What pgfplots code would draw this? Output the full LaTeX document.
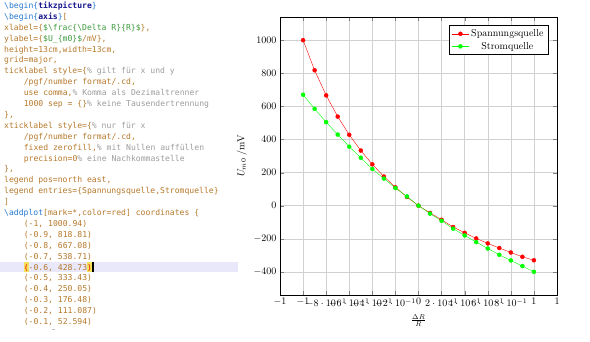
\documentclass[border=0pt]{standalone}
\usepackage{fontspec}
\usepackage{pgfplots}
\pgfplotsset{compat=1.18}
\newfontfamily\codefont{DejaVu Sans Mono}
\definecolor{kwblue}{HTML}{2479D0}
\definecolor{envblue}{HTML}{15158F}
\definecolor{codebrown}{HTML}{B5782A}
\definecolor{codegreen}{HTML}{3C9A3C}
\definecolor{codegray}{HTML}{9C9C9C}
\definecolor{linehl}{HTML}{E8E8FA}
\definecolor{parenhl}{HTML}{F2E35A}
\newcommand\kw[1]{\textcolor{kwblue}{#1}}
\newcommand\env[1]{\textcolor{envblue}{\bfseries #1}}
\newcommand\br[1]{\textcolor{codebrown}{#1}}
\newcommand\gr[1]{\textcolor{codegreen}{#1}}
\newcommand\cm[1]{\textcolor{codegray}{#1}}
% line number, indent (characters), text
\newcommand\codeline[3]{\node[anchor=base west, inner sep=0pt,
  font=\codefont\fontsize{8.1}{10}\selectfont]
  at ({4pt+4.9pt*#2},{333.5pt-10.9pt*#1}) {#3};}

\begin{document}
\begin{tikzpicture}
\useasboundingbox (0pt,0pt) rectangle (590pt,342pt);

% editor pane
\fill[linehl] (0pt,69.7pt) rectangle (238pt,80.3pt);
\fill[parenhl] (23.6pt,70.3pt) rectangle (28.5pt,79.7pt);
\fill[parenhl] (87.3pt,70.3pt) rectangle (92.2pt,79.7pt);
\fill[black] (92.3pt,70pt) rectangle (93.9pt,80pt);
\draw[gray!50, line width=0.8pt] (51.5pt,13pt) -- (55pt,13pt);
\begin{scope}
\clip (0pt,17.5pt) rectangle (240pt,342pt);
\codeline{0}{0}{\kw{\textbackslash begin\{}\env{tikzpicture}\kw{\}}}
\codeline{1}{0}{\kw{\textbackslash begin\{}\env{axis}\kw{\}}\br{[}}
\codeline{2}{0}{\br{xlabel=\{}\gr{\$\textbackslash frac\{\textbackslash Delta R\}\{R\}\$}\br{\},}}
\codeline{3}{0}{\br{ylabel=\{}\gr{\$U\_\{m0\}\$}\br{ /mV\},}}
\codeline{4}{0}{\br{height=13cm,width=13cm,}}
\codeline{5}{0}{\br{grid=major,}}
\codeline{6}{0}{\br{ticklabel style=\{}\cm{\% gilt für x und y}}
\codeline{7}{4}{\br{/pgf/number format/.cd,}}
\codeline{8}{4}{\br{use comma,}\cm{\% Komma als Dezimaltrenner}}
\codeline{9}{4}{\br{1000 sep = \{\}}\cm{\% keine Tausendertrennung}}
\codeline{10}{0}{\br{\},}}
\codeline{11}{0}{\br{xticklabel style=\{}\cm{\% nur für x}}
\codeline{12}{4}{\br{/pgf/number format/.cd,}}
\codeline{13}{4}{\br{fixed zerofill,}\cm{\% mit Nullen auffüllen}}
\codeline{14}{4}{\br{precision=0}\cm{\% eine Nachkommastelle}}
\codeline{15}{0}{\br{\},}}
\codeline{16}{0}{\br{legend pos=north east,}}
\codeline{17}{0}{\br{legend entries=\{Spannungsquelle,Stromquelle\}}}
\codeline{18}{0}{\br{]}}
\codeline{19}{0}{\kw{\textbackslash addplot}\br{[mark=*,color=red] coordinates \{}}
\codeline{20}{4}{\br{(-1, 1000.94)}}
\codeline{21}{4}{\br{(-0.9, 818.81)}}
\codeline{22}{4}{\br{(-0.8, 667.08)}}
\codeline{23}{4}{\br{(-0.7, 538.71)}}
\codeline{24}{4}{\textcolor{red}{(}\br{-0.6, 428.73}\textcolor{red}{)}}
\codeline{25}{4}{\br{(-0.5, 333.43)}}
\codeline{26}{4}{\br{(-0.4, 250.05)}}
\codeline{27}{4}{\br{(-0.3, 176.48)}}
\codeline{28}{4}{\br{(-0.2, 111.087)}}
\codeline{29}{4}{\br{(-0.1, 52.594)}}
\end{scope}

% chart
\begin{axis}[
  at={(280pt,47pt)}, anchor=south west,
  scale only axis, width=277pt, height=278pt,
  xmin=-1.2, xmax=1.2, ymin=-540, ymax=1141,
  xlabel={$\frac{\Delta R}{R}$},
  ylabel={$U_{m0}$ /mV},
  grid=major,
  major grid style={black!18},
  xtick={-1.2,-1,-0.8,-0.6,-0.4,-0.2,0,0.2,0.4,0.6,0.8,1,1.2},
  xticklabels={{$-1$},{$-1$},{$-8\cdot10^{-1}$},{$-6\cdot10^{-1}$},{$-4\cdot10^{-1}$},{$-2\cdot10^{-1}$},{$0$},{$2\cdot10^{-1}$},{$4\cdot10^{-1}$},{$6\cdot10^{-1}$},{$8\cdot10^{-1}$},{$1$},{$1$}},
  ytick={-400,-200,0,200,400,600,800,1000},
  yticklabel style={/pgf/number format/.cd, use comma, 1000 sep={}},
  legend pos=north east,
  legend cell align=center,
]
\addplot[mark=*, color=red] coordinates {
  (-1,1000.94) (-0.9,818.81) (-0.8,667.08) (-0.7,538.71) (-0.6,428.73)
  (-0.5,333.43) (-0.4,250.05) (-0.3,176.48) (-0.2,111.087) (-0.1,52.594)
  (0,0) (0.1,-44) (0.2,-85) (0.3,-129) (0.4,-164) (0.5,-198)
  (0.6,-228) (0.7,-256) (0.8,-283) (0.9,-309) (1,-330)
};
\addlegendentry{Spannungsquelle}
\addplot[mark=*, color=green] coordinates {
  (-1,671) (-0.9,586) (-0.8,505) (-0.7,430) (-0.6,357)
  (-0.5,290) (-0.4,222) (-0.3,164) (-0.2,107) (-0.1,56)
  (0,0) (0.1,-48) (0.2,-91) (0.3,-139) (0.4,-180) (0.5,-220)
  (0.6,-259) (0.7,-297) (0.8,-331) (0.9,-365) (1,-400)
};
\addlegendentry{Stromquelle}
\end{axis}
\end{tikzpicture}
\end{document}
